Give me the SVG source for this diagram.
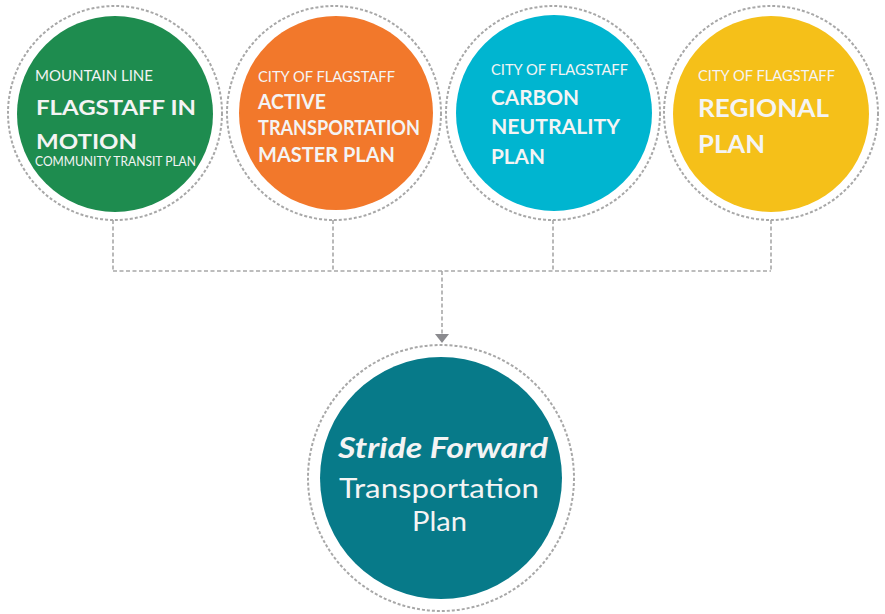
<svg xmlns="http://www.w3.org/2000/svg" width="885" height="614" viewBox="0 0 885 614">
<style>
.ring{fill:#fff;stroke:#a8a8a8;stroke-width:2;stroke-dasharray:3 2}
.t{font-family:Lato,"Open Sans","Liberation Sans",sans-serif;fill:#f4f4f4}
.s{font-size:15px}
.xs{font-size:12.5px}
.b{font-size:21.5px;font-weight:bold}
.conn{fill:none;stroke:#a8a8a8;stroke-width:1.6;stroke-dasharray:4 2.5}
</style>
<rect width="885" height="614" fill="#fff"/>
<g id="connectors">
<path class="conn" d="M113,220 V271 M333,220 V271 M553,220 V271 M771,220 V271 M113,271 H771"/>
<path class="conn" d="M442,271 V334"/>
<path d="M435,334 L449,334 L442,343 Z" fill="#8a8a8e"/>
</g>
<g id="node-flagstaff-in-motion">
<circle class="ring" cx="115" cy="113" r="107"/>
<circle cx="115" cy="114" r="98" fill="#1e8c4f"/>
<text class="t s" x="35" y="81" textLength="118" lengthAdjust="spacingAndGlyphs">MOUNTAIN LINE</text>
<text class="t b" x="36" y="115" textLength="160" lengthAdjust="spacingAndGlyphs">FLAGSTAFF IN</text>
<text class="t b" x="36" y="149" textLength="101" lengthAdjust="spacingAndGlyphs">MOTION</text>
<text class="t xs" x="35" y="166" textLength="161" lengthAdjust="spacingAndGlyphs">COMMUNITY TRANSIT PLAN</text>
</g>
<g id="node-active-transportation">
<circle class="ring" cx="334" cy="113" r="107"/>
<circle cx="336" cy="113" r="97" fill="#f2782b"/>
<text class="t s" x="258" y="82" textLength="137" lengthAdjust="spacingAndGlyphs">CITY OF FLAGSTAFF</text>
<text class="t b" x="258" y="109" textLength="68" lengthAdjust="spacingAndGlyphs">ACTIVE</text>
<text class="t b" x="258" y="135" textLength="162" lengthAdjust="spacingAndGlyphs">TRANSPORTATION</text>
<text class="t b" x="258" y="162" textLength="137" lengthAdjust="spacingAndGlyphs">MASTER PLAN</text>
</g>
<g id="node-carbon-neutrality">
<circle class="ring" cx="553" cy="113" r="107"/>
<circle cx="554" cy="113" r="98" fill="#00b5d0"/>
<text class="t s" x="491" y="75" textLength="137" lengthAdjust="spacingAndGlyphs">CITY OF FLAGSTAFF</text>
<text class="t b" x="491" y="105" textLength="88" lengthAdjust="spacingAndGlyphs">CARBON</text>
<text class="t b" x="491" y="134" textLength="129" lengthAdjust="spacingAndGlyphs">NEUTRALITY</text>
<text class="t b" x="491" y="164" textLength="54" lengthAdjust="spacingAndGlyphs">PLAN</text>
</g>
<g id="node-regional-plan">
<circle class="ring" cx="771" cy="113" r="107"/>
<circle cx="771" cy="114" r="98" fill="#f5c019"/>
<text class="t s" x="698" y="81" textLength="137" lengthAdjust="spacingAndGlyphs">CITY OF FLAGSTAFF</text>
<text class="t" x="698" y="117" font-size="25" font-weight="bold" textLength="131" lengthAdjust="spacingAndGlyphs">REGIONAL</text>
<text class="t" x="698" y="153" font-size="25" font-weight="bold" textLength="67" lengthAdjust="spacingAndGlyphs">PLAN</text>
</g>
<g id="node-stride-forward">
<circle class="ring" cx="441" cy="478" r="133"/>
<circle cx="441" cy="478" r="121" fill="#077a89"/>
<text class="t" x="443" y="458" font-size="29" font-weight="bold" font-style="italic" text-anchor="middle" textLength="210" lengthAdjust="spacingAndGlyphs">Stride Forward</text>
<text class="t" x="439" y="498" font-size="27" text-anchor="middle" textLength="200" lengthAdjust="spacingAndGlyphs">Transportation</text>
<text class="t" x="439.5" y="531" font-size="27" text-anchor="middle" textLength="55" lengthAdjust="spacingAndGlyphs">Plan</text>
</g>
</svg>
